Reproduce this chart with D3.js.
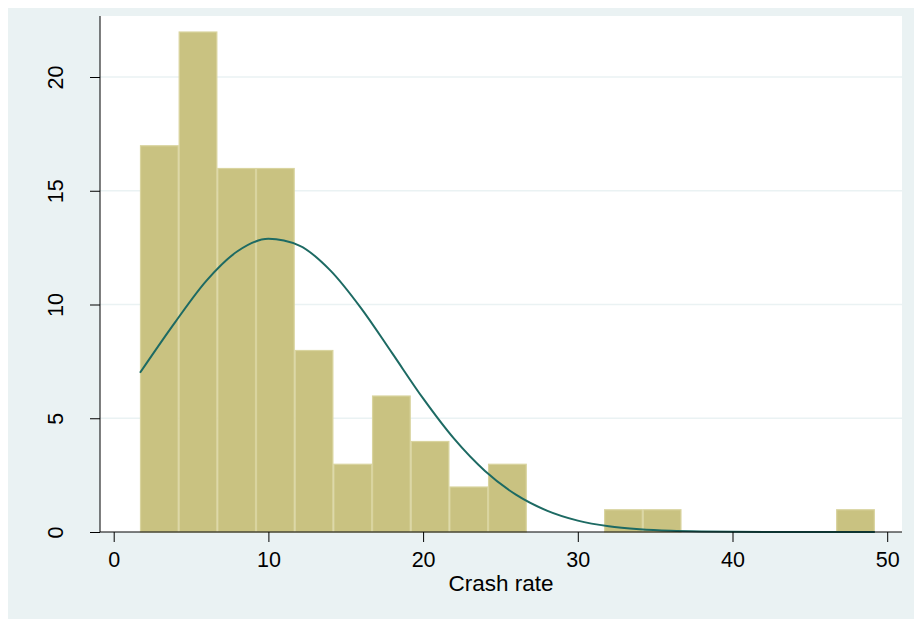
<!DOCTYPE html>
<html>
<head>
<meta charset="utf-8">
<script src="https://cdn.jsdelivr.net/npm/d3@7"></script>
<style>
  body { margin: 0; background: #ffffff; }
  svg { display: block; }
</style>
</head>
<body>
<svg id="chart"></svg>
<script>
// histogram bins (left edge of each bin, width 2.5) and frequencies
const binLeft = [1.7, 4.2, 6.7, 9.2, 11.7, 14.2, 16.7, 19.2, 21.7, 24.2,
                 26.7, 29.2, 31.7, 34.2, 36.7, 39.2, 41.7, 44.2, 46.7];
const binWidth = 2.5;
const counts = [17, 22, 16, 16, 8, 3, 6, 4, 2, 3, 0, 0, 1, 1, 0, 0, 0, 0, 1];

// normal density overlay
const curveX = [1.7, 4, 6, 8, 10, 12, 14, 16, 18, 20, 22, 24, 26, 28, 30, 32, 34, 36, 38, 40, 44, 49.2];
const curveY = [7.0, 9.25, 11.05, 12.34, 12.89, 12.59, 11.5, 9.83, 7.86, 5.87, 4.1, 2.68, 1.64, 0.94, 0.5, 0.25, 0.12, 0.05, 0.02, 0.01, 0, 0];

const xTicks = [0, 10, 20, 30, 40, 50];
const yTicks = [0, 5, 10, 15, 20];
const xTitle = "Crash rate";

const svgWidth = 914;
const svgHeight = 619;
const plot = { left: 100, right: 902, top: 16, bottom: 532 };

const svg = d3.select("#chart")
  .attr("width", svgWidth)
  .attr("height", svgHeight)
  .style("font-family", "'Liberation Sans', Arial, sans-serif");

// outer background
svg.append("rect")
  .attr("x", 8).attr("y", 8)
  .attr("width", svgWidth - 8).attr("height", svgHeight - 8)
  .attr("fill", "#eaf2f3");

// plot region
svg.append("rect")
  .attr("x", plot.left).attr("y", plot.top)
  .attr("width", plot.right - plot.left).attr("height", plot.bottom - plot.top)
  .attr("fill", "#ffffff");

const xScale = d3.scaleLinear().domain([0, 50]).range([113.7, 887.2]);
const yScale = d3.scaleLinear().domain([0, 20]).range([plot.bottom, plot.bottom - 20 * 22.75]);

// gridlines
svg.append("g")
  .selectAll("line")
  .data(yTicks.filter(d => d > 0))
  .enter()
  .append("line")
  .attr("x1", plot.left).attr("x2", plot.right)
  .attr("y1", d => yScale(d)).attr("y2", d => yScale(d))
  .attr("stroke", "#eaf2f3")
  .attr("stroke-width", 1.5);

// bars
const bins = binLeft.map((x0, i) => ({ x0, x1: x0 + binWidth, n: counts[i] }));
svg.append("g")
  .selectAll("rect")
  .data(bins.filter(d => d.n > 0))
  .enter()
  .append("rect")
  .attr("x", d => xScale(d.x0) + 0.5)
  .attr("y", d => yScale(d.n) + 0.5)
  .attr("width", d => xScale(d.x1) - xScale(d.x0) - 1)
  .attr("height", d => yScale(0) - yScale(d.n) - 0.5)
  .attr("fill", "#c9c281")
  .attr("stroke", "#d9d49f")
  .attr("stroke-width", 1.2);

// normal curve
const pts = curveX.map((x, i) => [x, curveY[i]]);
svg.append("path")
  .datum(pts)
  .attr("fill", "none")
  .attr("stroke", "#1d6a63")
  .attr("stroke-width", 2)
  .attr("d", d3.line()
    .x(d => xScale(d[0]))
    .y(d => yScale(d[1]))
    .curve(d3.curveMonotoneX));

// x axis
const xAxis = svg.append("g")
  .attr("transform", `translate(0,${plot.bottom})`)
  .call(d3.axisBottom(xScale).tickValues(xTicks).tickSize(10).tickSizeOuter(0).tickPadding(10));
xAxis.select(".domain").attr("d", `M${plot.left},0H${plot.right}`).attr("stroke", "#000");
xAxis.selectAll("text").attr("font-size", "21.5px").attr("font-family", null).attr("fill", "#000");

// y axis
const yAxis = svg.append("g")
  .attr("transform", `translate(${plot.left},0)`)
  .call(d3.axisLeft(yScale).tickValues(yTicks).tickSize(10).tickSizeOuter(0));
yAxis.select(".domain").attr("d", `M0,${plot.top}V${plot.bottom}`).attr("stroke", "#000");
yAxis.selectAll("text")
  .attr("font-size", "21.5px")
  .attr("font-family", null)
  .attr("fill", "#000")
  .attr("x", null).attr("dy", null)
  .attr("text-anchor", "middle")
  .attr("transform", "translate(-37,0) rotate(-90)");

// axis title
svg.append("text")
  .attr("x", (plot.left + plot.right) / 2)
  .attr("y", 591)
  .attr("text-anchor", "middle")
  .attr("font-size", "22.5px")
  .text(xTitle);
</script>
</body>
</html>
